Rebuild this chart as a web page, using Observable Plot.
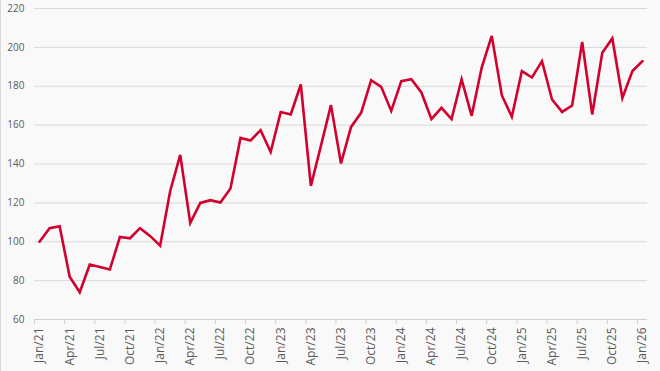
<!DOCTYPE html>
<html>
<head>
<meta charset="utf-8">
<script src="https://cdn.jsdelivr.net/npm/d3@7"></script>
<script src="https://cdn.jsdelivr.net/npm/@observablehq/plot@0.6"></script>
<style>
  html, body { margin: 0; padding: 0; background: #f9f9f9; }
  #chart svg { display: block; box-shadow: inset 1px 0 0 #d9d9d9; }
</style>
</head>
<body>
<div id="chart"></div>
<script>
const months = [
  "Jan/21","Feb/21","Mar/21","Apr/21","May/21","Jun/21","Jul/21","Aug/21","Sep/21","Oct/21","Nov/21","Dec/21",
  "Jan/22","Feb/22","Mar/22","Apr/22","May/22","Jun/22","Jul/22","Aug/22","Sep/22","Oct/22","Nov/22","Dec/22",
  "Jan/23","Feb/23","Mar/23","Apr/23","May/23","Jun/23","Jul/23","Aug/23","Sep/23","Oct/23","Nov/23","Dec/23",
  "Jan/24","Feb/24","Mar/24","Apr/24","May/24","Jun/24","Jul/24","Aug/24","Sep/24","Oct/24","Nov/24","Dec/24",
  "Jan/25","Feb/25","Mar/25","Apr/25","May/25","Jun/25","Jul/25","Aug/25","Sep/25","Oct/25","Nov/25","Dec/25",
  "Jan/26"
];
const values = [
  100, 107, 108, 82, 74, 88.3, 87, 85.7, 102.5, 101.8, 107, 103,
  98, 126, 144.7, 109.7, 120, 121.4, 120.2, 127.4, 153.4, 152.1, 157.4, 146.2,
  166.7, 165.5, 180.9, 128.7, 149.3, 170.3, 140.3, 159.1, 166.3, 183.1, 179.7, 167.3,
  182.6, 183.6, 176.8, 163.1, 168.9, 163.1, 183.6, 164.8, 189.6, 205.9, 175.4, 164.3,
  187.8, 184.5, 192.9, 173.2, 166.8, 170.1, 202.8, 165.5, 197.2, 204.6, 174.0, 187.8,
  192.9
];
const tickLabels = ["Jan/21","Apr/21","Jul/21","Oct/21","Jan/22","Apr/22","Jul/22","Oct/22","Jan/23","Apr/23","Jul/23","Oct/23","Jan/24","Apr/24","Jul/24","Oct/24","Jan/25","Apr/25","Jul/25","Oct/25","Jan/26"];
const yTicks = [60, 80, 100, 120, 140, 160, 180, 200, 220];

const data = months.map((m, i) => ({i, month: m, value: values[i]}));
const labelIdx = tickLabels.map(l => months.indexOf(l));
const tickBounds = labelIdx.map(i => i - 0.5);

const chart = Plot.plot({
  width: 660,
  height: 371,
  marginLeft: 34,
  marginRight: 13,
  marginTop: 8,
  marginBottom: 52,
  style: {background: "#f9f9f9", fontFamily: "'Open Sans', sans-serif", color: "#595959", overflow: "visible"},
  x: {type: "linear", domain: [-0.5, months.length - 0.5]},
  y: {domain: [60, 220]},
  marks: [
    Plot.gridY(yTicks.filter(t => t > 60), {stroke: "#d9d9d9", strokeOpacity: 1}),
    Plot.axisY({ticks: yTicks, tickSize: 0, tickPadding: 10, fontSize: 10, label: null}),
    Plot.ruleY([60], {stroke: "#d0d0d0"}),
    Plot.axisX({ticks: tickBounds, tickSize: 5, tickFormat: () => "", stroke: "#d0d0d0", label: null}),
    Plot.axisX({ticks: labelIdx, tickSize: 0, tickPadding: 8, tickRotate: -90, fontSize: 12, tickFormat: i => months[i], label: null}),
    Plot.line(data, {x: "i", y: "value", stroke: "#d2002e", strokeWidth: 2.6, strokeLinejoin: "miter", strokeMiterlimit: 4})
  ]
});
document.getElementById("chart").appendChild(chart);
</script>
</body>
</html>
